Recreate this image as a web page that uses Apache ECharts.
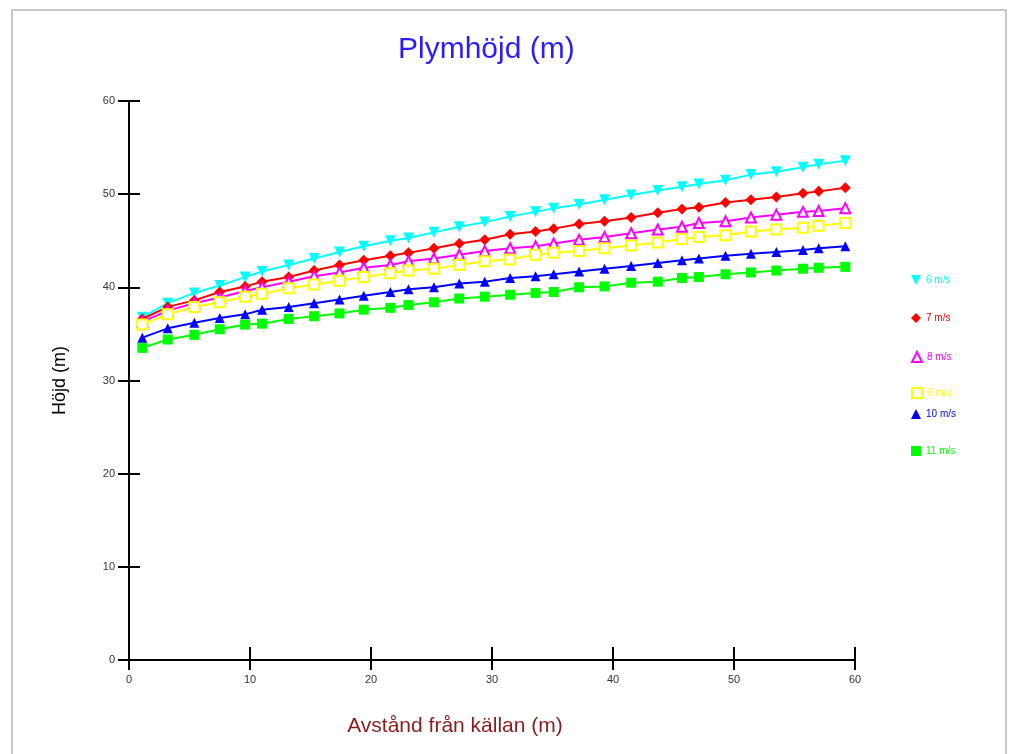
<!DOCTYPE html>
<html lang="sv">
<head>
    <meta charset="utf-8">
    <title>Plymhöjd (m)</title>
    <script src="https://cdn.jsdelivr.net/npm/echarts@6/dist/echarts.min.js"></script>
    <style>
        html, body { margin: 0; padding: 0; background: #fff; }
        #chart { width: 1009px; height: 754px; }
    </style>
</head>
<body>
<div id="chart"></div>
<script>
    // avstånd från källan (m)
    const distance = [1.1, 3.2, 5.4, 7.5, 9.6, 11.0, 13.2, 15.3, 17.4, 19.4,
        21.6, 23.1, 25.2, 27.3, 29.4, 31.5, 33.6, 35.1, 37.2, 39.3,
        41.5, 43.7, 45.7, 47.1, 49.3, 51.4, 53.5, 55.7, 57.0, 59.2];

    // höjd (m) per vindhastighet
    const h6 = [36.8, 38.3, 39.4, 40.2, 41.1, 41.7, 42.4, 43.1, 43.8, 44.4,
        45.0, 45.3, 45.9, 46.5, 47.0, 47.6, 48.1, 48.5, 48.9, 49.4,
        49.9, 50.4, 50.8, 51.1, 51.5, 52.1, 52.4, 52.9, 53.2, 53.6];
    const h7 = [36.6, 37.9, 38.6, 39.5, 40.1, 40.6, 41.1, 41.8, 42.4, 42.9,
        43.4, 43.7, 44.2, 44.7, 45.1, 45.7, 46.0, 46.3, 46.8, 47.1,
        47.5, 48.0, 48.4, 48.6, 49.1, 49.4, 49.7, 50.1, 50.3, 50.7];
    const h8 = [36.3, 37.5, 38.3, 38.9, 39.6, 40.0, 40.6, 41.2, 41.6, 42.1,
        42.4, 42.8, 43.1, 43.5, 43.9, 44.2, 44.4, 44.7, 45.1, 45.4,
        45.8, 46.2, 46.5, 46.9, 47.1, 47.5, 47.8, 48.1, 48.2, 48.5];
    const h9 = [36.0, 37.1, 37.9, 38.4, 39.0, 39.3, 39.9, 40.3, 40.7, 41.1,
        41.5, 41.8, 42.0, 42.4, 42.8, 43.0, 43.5, 43.7, 43.9, 44.2,
        44.5, 44.8, 45.2, 45.4, 45.6, 46.0, 46.2, 46.4, 46.6, 46.9];
    const h10 = [34.6, 35.6, 36.2, 36.7, 37.1, 37.6, 37.9, 38.3, 38.7, 39.1,
        39.5, 39.8, 40.0, 40.4, 40.6, 41.0, 41.2, 41.4, 41.7, 42.0,
        42.3, 42.6, 42.9, 43.1, 43.4, 43.6, 43.8, 44.0, 44.2, 44.4];
    const h11 = [33.5, 34.4, 34.9, 35.5, 36.0, 36.1, 36.6, 36.9, 37.2, 37.6,
        37.8, 38.1, 38.4, 38.8, 39.0, 39.2, 39.4, 39.5, 40.0, 40.1,
        40.5, 40.6, 41.0, 41.1, 41.4, 41.6, 41.8, 42.0, 42.1, 42.2];

    const names = ['6 m/s', '7 m/s', '8 m/s', '9 m/s', '10 m/s', '11 m/s'];
    const values = [h6, h7, h8, h9, h10, h11];
    const colors = ['#00ffff', '#ff0000', '#ff00ff', '#ffff00', '#0000ff', '#00ff00'];
    const downTriangle = 'path://M0,0 L10,0 L5,10 Z';
    const symbols = [downTriangle, 'diamond', 'emptyTriangle', 'emptyRect', 'triangle', 'rect'];
    const sizes = [11, 11, 10, 10, 10, 10];
    // legendens y-positioner (px) är ojämna i originalet
    const legendTops = [270, 308, 346, 382, 404, 441];

    const chart = echarts.init(document.getElementById('chart'));

    const axisFont = {fontFamily: 'Liberation Sans', fontSize: 11, color: '#333'};

    const series = names.map((name, i) => ({
        name: name,
        type: 'line',
        data: distance.map((x, j) => [x, values[i][j]]),
        symbol: symbols[i],
        symbolSize: sizes[i],
        showAllSymbol: true,
        color: colors[i],
        lineStyle: {width: 2, color: colors[i]},
        itemStyle: {color: colors[i], borderWidth: 1.5},
        animation: false
    }));

    const legends = names.map((name, i) => ({
        orient: 'vertical',
        left: 906,
        top: legendTops[i],
        itemWidth: 10,
        itemHeight: 10,
        itemGap: 4,
        data: [{name: name, icon: symbols[i]}],
        textStyle: {color: colors[i], fontFamily: 'Liberation Sans', fontSize: 10}
    }));

    const option = {
        backgroundColor: '#fff',
        animation: false,
        title: {
            text: 'Plymhöjd (m)',
            left: 393,
            top: 30,
            textStyle: {color: '#2b1bff', fontFamily: 'Liberation Sans', fontSize: 30, fontWeight: 'normal'}
        },
        graphic: [{
            type: 'rect',
            shape: {x: 12, y: 10, width: 994, height: 760},
            style: {fill: 'none', stroke: '#c8c8c8', lineWidth: 2},
            silent: true
        }],
        legend: legends,
        grid: {left: 129, right: 154, top: 101, bottom: 94},
        xAxis: [{
            type: 'value',
            min: 0, max: 60, interval: 10,
            name: 'Avstånd från källan (m)',
            nameLocation: 'middle',
            nameGap: 56,
            nameTextStyle: {
                color: '#8b1c1c', fontFamily: 'Liberation Sans', fontSize: 21,
                padding: [0, 74, 0, 0]
            },
            axisLine: {onZero: false, lineStyle: {color: '#000', width: 2}},
            axisTick: {length: 10, lineStyle: {color: '#000', width: 2}},
            axisLabel: Object.assign({margin: 14}, axisFont),
            splitLine: {show: false}
        }, {
            type: 'value',
            position: 'bottom',
            min: 0, max: 60, interval: 10,
            axisLine: {show: false},
            axisTick: {inside: true, length: 13, lineStyle: {color: '#000', width: 2}},
            axisLabel: {show: false},
            splitLine: {show: false}
        }],
        yAxis: [{
            type: 'value',
            min: 0, max: 60, interval: 10,
            name: 'Höjd (m)',
            nameLocation: 'middle',
            nameGap: 60,
            nameTextStyle: {color: '#000', fontFamily: 'Liberation Sans', fontSize: 18},
            axisLine: {show: true, onZero: false, lineStyle: {color: '#000', width: 2}},
            axisTick: {show: true, length: 11, lineStyle: {color: '#000', width: 2}},
            axisLabel: Object.assign({margin: 14}, axisFont),
            splitLine: {show: false}
        }, {
            type: 'value',
            position: 'left',
            min: 0, max: 60, interval: 10,
            axisLine: {show: false},
            axisTick: {show: true, inside: true, length: 11, lineStyle: {color: '#000', width: 2}},
            axisLabel: {show: false},
            splitLine: {show: false}
        }],
        series: series
    };

    chart.setOption(option);
</script>
</body>
</html>
